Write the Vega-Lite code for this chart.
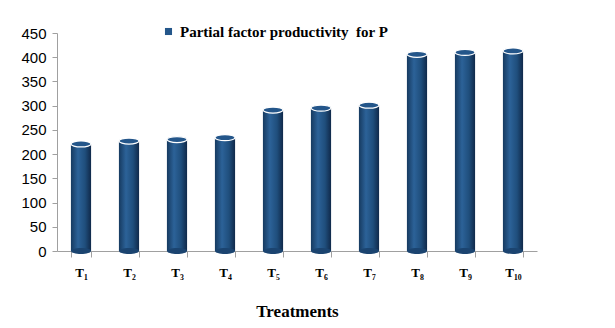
{
  "$schema": "https://vega.github.io/schema/vega-lite/v6.json",
  "width": 480,
  "height": 218,
  "autosize": "none",
  "padding": {"left": 57, "top": 33, "right": 78, "bottom": 77},
  "background": "white",
  "config": {"view": {"stroke": null}},
  "data": {
    "values": [
      {"t": "T₁", "v": 221},
      {"t": "T₂", "v": 227},
      {"t": "T₃", "v": 230},
      {"t": "T₄", "v": 234},
      {"t": "T₅", "v": 291},
      {"t": "T₆", "v": 295},
      {"t": "T₇", "v": 301},
      {"t": "T₈", "v": 406},
      {"t": "T₉", "v": 410},
      {"t": "T₁₀", "v": 413}
    ]
  },
  "encoding": {
    "x": {
      "field": "t", "type": "nominal", "sort": null,
      "scale": {"paddingInner": 0.58, "paddingOuter": 0.29},
      "axis": {
        "title": "Treatments", "titleFont": "Liberation Serif", "titleFontSize": 17, "titleFontWeight": "bold", "titleColor": "black", "titlePadding": 24,
        "labelAngle": 0, "labelFont": "Liberation Serif", "labelFontSize": 13, "labelFontWeight": "bold", "labelColor": "black", "labelPadding": 9,
        "domainColor": "#A0A0A0", "tickColor": "#A0A0A0", "tickBand": "extent", "tickSize": 6
      }
    },
    "y": {
      "field": "v", "type": "quantitative",
      "scale": {"domain": [0, 450], "nice": false},
      "axis": {
        "title": null, "values": [0, 50, 100, 150, 200, 250, 300, 350, 400, 450],
        "labelFont": "Liberation Sans", "labelFontSize": 15, "labelColor": "black", "labelPadding": 6,
        "domainColor": "#A0A0A0", "tickColor": "#A0A0A0", "tickSize": 5, "grid": false
      }
    }
  },
  "layer": [
    {
      "mark": {
        "type": "bar",
        "fill": {
          "gradient": "linear", "x1": 0, "x2": 1, "y1": 0, "y2": 0,
          "stops": [
            {"offset": 0, "color": "#163A60"},
            {"offset": 0.35, "color": "#2C6298"},
            {"offset": 0.7, "color": "#1F4E7C"},
            {"offset": 1, "color": "#10294A"}
          ]
        }
      }
    },
    {
      "mark": {"type": "point", "filled": true, "shape": "M -1 0 A 1 0.3 0 1 1 1 0 A 1 0.3 0 1 1 -1 0 Z", "size": 400, "fill": "#1B4470", "opacity": 1},
      "encoding": {"y": {"datum": 0}}
    },
    {
      "mark": {"type": "point", "filled": true, "shape": "M -1 0 A 1 0.3 0 1 1 1 0 A 1 0.3 0 1 1 -1 0 Z", "size": 400, "stroke": "white", "strokeWidth": 1.2, "opacity": 1},
      "encoding": {
        "color": {
          "datum": "Partial factor productivity\u00a0 for P",
          "type": "nominal",
          "scale": {"range": ["#24568A"]},
          "legend": {
            "title": null, "orient": "none", "legendX": 104, "legendY": -9,
            "symbolType": "square", "symbolSize": 50, "symbolFillColor": "#1F4E79", "symbolStrokeWidth": 0, "labelOffset": 4,
            "labelFont": "Liberation Serif", "labelFontSize": 15, "labelFontWeight": "bold", "labelColor": "black", "labelLimit": 400
          }
        }
      }
    }
  ]
}
